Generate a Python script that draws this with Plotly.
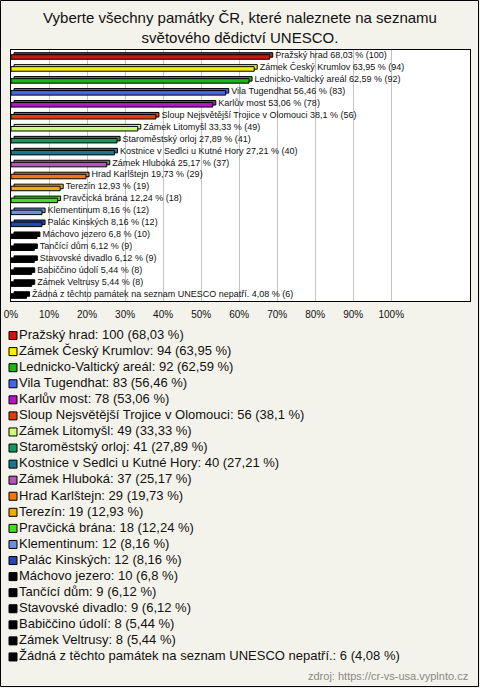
import plotly.graph_objects as go

title = "Vyberte všechny památky ČR, které naleznete na seznamu<br>světového dědictví UNESCO."
names = [
    "Pražský hrad", "Zámek Český Krumlov", "Lednicko-Valtický areál", "Vila Tugendhat",
    "Karlův most", "Sloup Nejsvětější Trojice v Olomouci", "Zámek Litomyšl",
    "Staroměstský orloj", "Kostnice v Sedlci u Kutné Hory", "Zámek Hluboká",
    "Hrad Karlštejn", "Terezín", "Pravčická brána", "Klementinum", "Palác Kinských",
    "Máchovo jezero", "Tančící dům", "Stavovské divadlo", "Babiččino údolí",
    "Zámek Veltrusy", "Žádná z těchto památek na seznam UNESCO nepatří.",
]
counts = [100, 94, 92, 83, 78, 56, 49, 41, 40, 37, 29, 19, 18, 12, 12, 10, 9, 9, 8, 8, 6]
percents = [68.03, 63.95, 62.59, 56.46, 53.06, 38.1, 33.33, 27.89, 27.21, 25.17,
            19.73, 12.93, 12.24, 8.16, 8.16, 6.8, 6.12, 6.12, 5.44, 5.44, 4.08]
colors = ["#c8180c", "#ffee00", "#18b818", "#4466ee", "#bb11cc", "#e03c0c", "#ccff77",
          "#119960", "#17788c", "#b455bb", "#ee7711", "#eeaa11", "#44dd22", "#6a8ee0",
          "#2448b0", "#000000", "#000000", "#000000", "#000000", "#000000", "#000000"]
tick_vals = [0, 10, 20, 30, 40, 50, 60, 70, 80, 90, 100]
tick_text = ["0%", "10%", "20%", "30%", "40%", "50%", "60%", "70%", "80%", "90%", "100%"]
source = "zdroj: https://cr-vs-usa.vyplnto.cz"

W, H = 480, 688
ML, MR, MT, MB = 11, 10, 50, 23
PW, PH = W - ML - MR, H - MT - MB
FONT = "Liberation Sans, Arial, sans-serif"
NB = "\u00a0"
DEPTH = 0.8   # 3-D depth of the bars, in axis percent
BW = 0.38     # bar face thickness, in category units


def fmt(v):
    return f"{v:g}".replace(".", ",")


def py(px):
    """pixel row (from top) -> paper fraction"""
    return (H - MB - px) / PH


bar_labels = [f"{NB}{n} {fmt(p)} % ({c})" for n, c, p in zip(names, counts, percents)]
legend_labels = [f"{n}: {c} ({fmt(p)} %)" for n, c, p in zip(names, counts, percents)]

fig = go.Figure()
# back face of the 3-D bars (carries the value labels)
fig.add_trace(go.Bar(
    x=percents, y=names, orientation="h", base=DEPTH, width=BW, offset=-0.275,
    marker=dict(color=colors, line=dict(color="#000000", width=1)),
    text=bar_labels, textposition="outside",
    textfont=dict(family=FONT, size=9, color="#111111"),
    constraintext="none", cliponaxis=False, hoverinfo="skip", showlegend=False,
    xaxis="x", yaxis="y",
))
# front face
fig.add_trace(go.Bar(
    x=percents, y=names, orientation="h", width=BW, offset=-0.105,
    marker=dict(color=colors, line=dict(color="#000000", width=1)),
    cliponaxis=False, hoverinfo="skip", showlegend=False,
    xaxis="x", yaxis="y",
))
# legend drawn as a marker+text column on its own axes
fig.add_trace(go.Scatter(
    x=[0] * len(names), y=list(range(len(names))), mode="markers+text",
    marker=dict(symbol="square", size=8, color=colors, line=dict(color="#000000", width=1)),
    text=legend_labels, textposition="middle right",
    textfont=dict(family=FONT, size=13, color="#111111"),
    cliponaxis=False, hoverinfo="skip", showlegend=False,
    xaxis="x2", yaxis="y2",
))

fig.update_layout(
    width=W, height=H,
    margin=dict(l=ML, r=MR, t=MT, b=MB, autoexpand=False),
    paper_bgcolor="#f4f3eb", plot_bgcolor="rgba(0,0,0,0)",
    font=dict(family=FONT, color="#111111"),
    barmode="overlay",
    title=dict(text=title, x=0.5, xanchor="center", y=1 - 23 / H, yanchor="top",
               font=dict(size=15, color="#111111")),
    showlegend=False,
    xaxis=dict(range=[0, 120.7], tickvals=tick_vals, ticktext=tick_text, anchor="y",
               showgrid=True, gridcolor="#c4c4c4", gridwidth=1, zeroline=False,
               showline=True, linecolor="#000000", linewidth=1, mirror=True,
               ticks="outside", ticklen=4, tickcolor="rgba(0,0,0,0)",
               tickfont=dict(size=10, color="#111111"), fixedrange=True),
    yaxis=dict(domain=[py(301), 1], autorange="reversed", showticklabels=False,
               showgrid=False, zeroline=False, anchor="x",
               showline=True, linecolor="#000000", linewidth=1, mirror=True,
               fixedrange=True),
    xaxis2=dict(domain=[0, 1], range=[-2, PW - 2], anchor="y2", visible=False,
                fixedrange=True),
    yaxis2=dict(domain=[0, py(327.5)], range=[len(names) - 0.5, -0.5], anchor="x2",
                visible=False, fixedrange=True),
    annotations=[dict(text=source, xref="paper", yref="paper", x=1, y=py(676),
                      xanchor="right", yanchor="middle", showarrow=False,
                      font=dict(family=FONT, size=11, color="#888888"))],
    shapes=[
        dict(type="rect", xref="x domain", yref="y domain", x0=0, x1=1, y0=0, y1=1,
             fillcolor="#ffffff", line=dict(width=0), layer="below"),
        dict(type="rect", xref="paper", yref="paper",
             x0=-(ML - 0.5) / PW, x1=1 + (MR - 1.5) / PW,
             y0=py(H - 1.5), y1=py(0.5),
             line=dict(color="#000000", width=1), layer="below"),
    ],
)

fig.write_html("out.html", config={"displayModeBar": False},
               post_script="document.body.style.margin='0';document.body.style.overflow='hidden';")
